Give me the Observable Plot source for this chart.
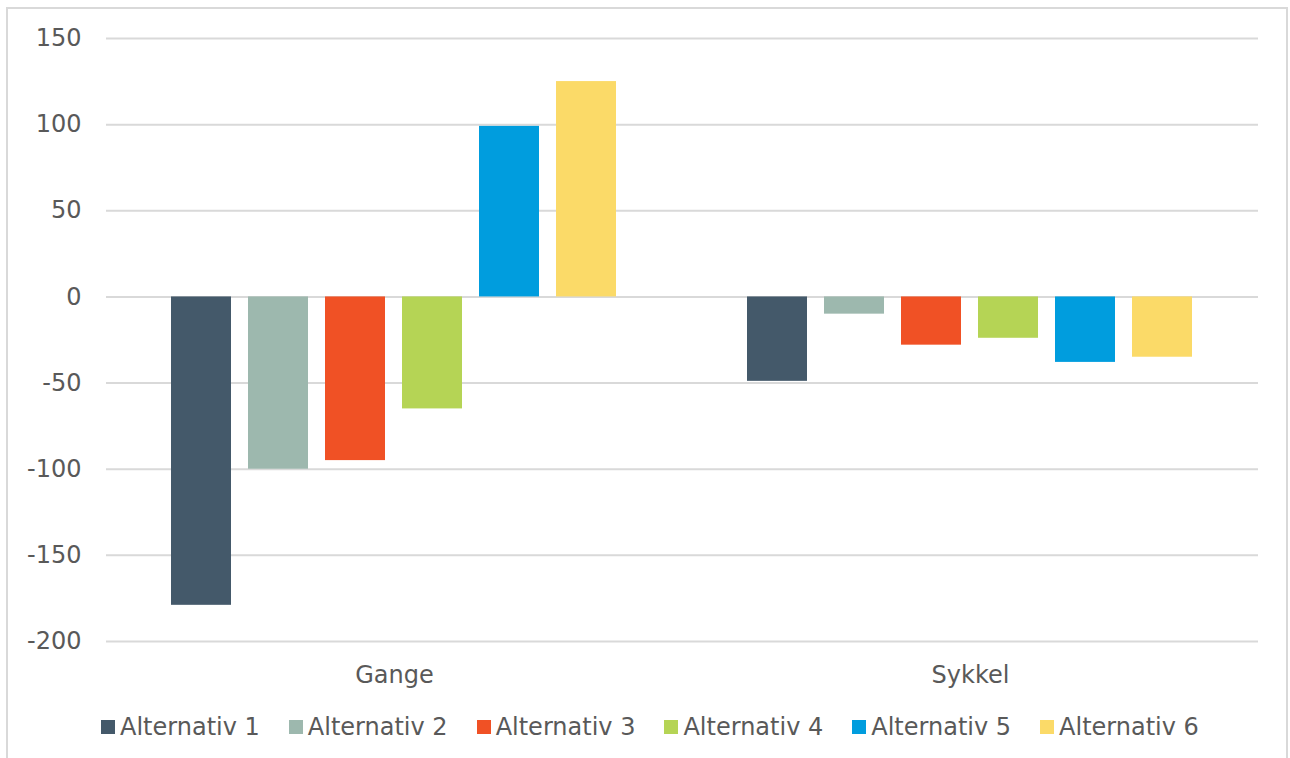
<!DOCTYPE html>
<html>
<head>
<meta charset="utf-8">
<script src="https://cdn.jsdelivr.net/npm/d3@7"></script>
<script src="https://cdn.jsdelivr.net/npm/@observablehq/plot@0.6"></script>
<style>
  html, body { margin: 0; padding: 0; background: #fff; }
  body { width: 1290px; height: 758px; position: relative; overflow: hidden; font-family: "DejaVu Sans", Verdana, sans-serif; }
  #frame { position: absolute; left: 6px; top: 7px; width: 1278px; height: 800px; border: 2px solid #d9d9d9; pointer-events: none; }
  #chart { position: absolute; left: 0; top: 0; }
  #legend { position: absolute; left: 101px; top: 712px; }
  .lg-swatches { font-family: "DejaVu Sans", Verdana, sans-serif !important; font-size: 24px !important; color: #595959 !important; margin: 0 !important; }
  .lg-swatches-wrap { min-height: 30px !important; }
  .lg-swatches-wrap .lg-swatch { margin-right: 29px !important; }
  .lg-swatch > svg { margin-right: 5px !important; }
</style>
</head>
<body>
<div id="chart"></div>
<div id="legend"></div>
<div id="frame"></div>
<script>
// Modes of travel (groups along the axis)
const modes = ["Gange", "Sykkel"];
// Alternatives (series)
const alternatives = ["Alternativ 1", "Alternativ 2", "Alternativ 3", "Alternativ 4", "Alternativ 5", "Alternativ 6"];
// Change per alternative for walking and cycling
const gangeValues = [-179, -100, -95, -65, 99, 125];
const sykkelValues = [-49, -10, -28, -24, -38, -35];
// Series colours
const colors = ["#44596a", "#9db8ae", "#f05125", "#b5d455", "#009dde", "#fbda68"];
// Value axis ticks
const yTicks = [-200, -150, -100, -50, 0, 50, 100, 150];

const rows = [
  ...alternatives.map((alt, i) => ({mode: modes[0], alt, value: gangeValues[i]})),
  ...alternatives.map((alt, i) => ({mode: modes[1], alt, value: sykkelValues[i]}))
];

const textColor = "#595959";
const font = "DejaVu Sans, Verdana, sans-serif";

const chart = Plot.plot({
  width: 1290,
  height: 700,
  marginTop: 38,
  marginBottom: 59,
  marginLeft: 105,
  marginRight: 32,
  style: {fontFamily: font, fontSize: "24px", color: textColor, background: "transparent", overflow: "visible"},
  fx: {domain: modes, padding: 0, label: null},
  x: {domain: alternatives, paddingInner: 0.22, paddingOuter: 0.83, axis: null},
  y: {domain: [-200, 150], label: null},
  color: {domain: alternatives, range: colors},
  marks: [
    Plot.ruleY(yTicks, {stroke: "#d9d9d9", strokeWidth: 2}),
    Plot.barY(rows, {fx: "mode", x: "alt", y: "value", fill: "alt", inset: 0}),
    Plot.axisY(yTicks, {tickSize: 0, tickPadding: 25, fontSize: 24, fill: textColor, label: null, tickFormat: (d) => String(d)}),
    Plot.axisFx({anchor: "bottom", tickSize: 0, tickPadding: 24, fontSize: 24, fill: textColor, label: null})
  ]
});
document.getElementById("chart").append(chart);

const legend = Plot.legend({
  color: {domain: alternatives, range: colors},
  legend: "swatches",
  swatchSize: 14,
  className: "lg"
});
document.getElementById("legend").append(legend);
</script>
</body>
</html>
